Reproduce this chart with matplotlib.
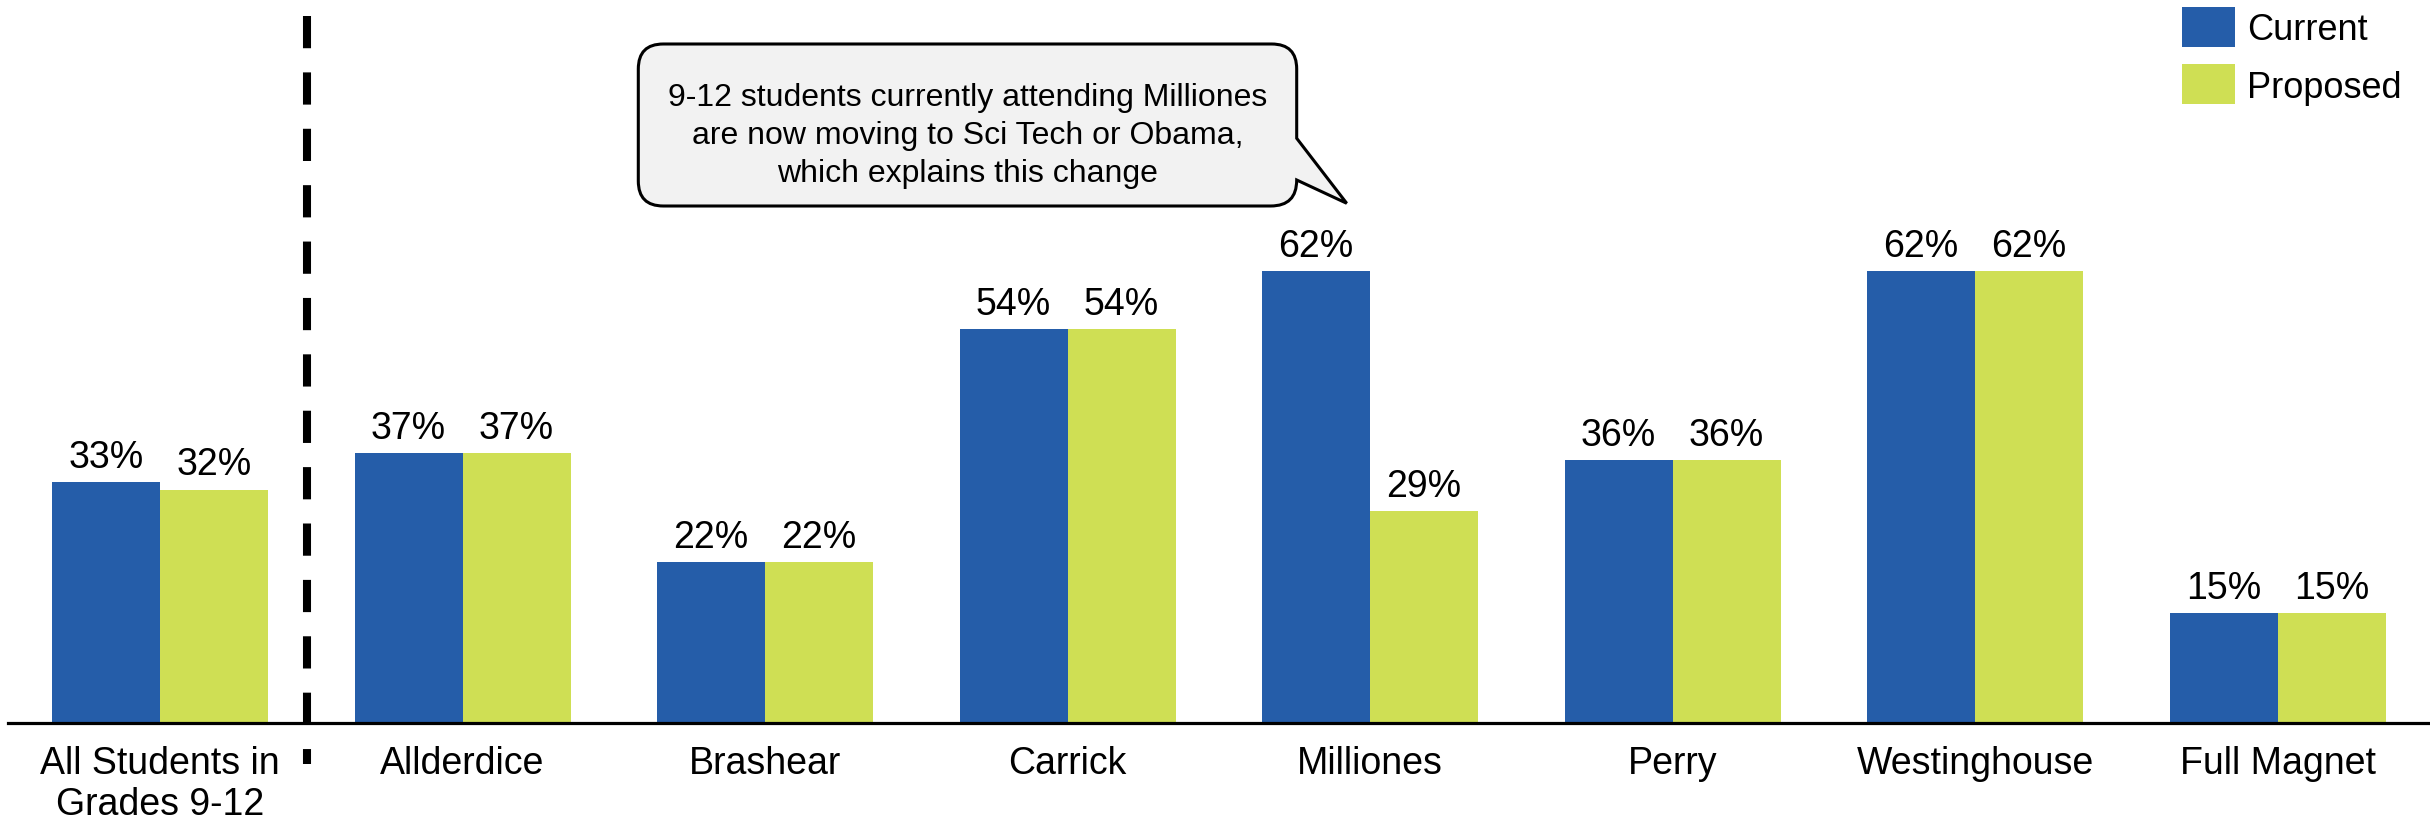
import matplotlib
matplotlib.use("Agg")
import matplotlib.pyplot as plt
import numpy as np
from matplotlib.path import Path
from matplotlib.patches import PathPatch, Rectangle

plt.rcParams['font.family'] = ['Liberation Sans', 'DejaVu Sans']

# ---------------- data ----------------
categories = ["All Students in\nGrades 9-12", "Allderdice", "Brashear", "Carrick",
              "Milliones", "Perry", "Westinghouse", "Full Magnet"]
current = [33, 37, 22, 54, 62, 36, 62, 15]
proposed = [32, 37, 22, 54, 29, 36, 62, 15]
series_names = ["Current", "Proposed"]
callout_lines = ["9-12 students currently attending Milliones",
                 "are now moving to Sci Tech or Obama,",
                 "which explains this change"]

BLUE = "#255DA9"
GREEN = "#CFDF54"
FS = 27

W, H = 2430, 822
fig = plt.figure(figsize=(W / 100, H / 100), dpi=100)

def fx(px):
    return px / W

def fy(py):
    return 1 - py / H

axis_y_px = 722.7
ax = fig.add_axes([fx(8), fy(axis_y_px), 1 - fx(8), axis_y_px / H])
ax.set_xlim(-0.5025, 7.504)
ax.set_ylim(0, 99.2)

x = np.arange(len(categories))
bw = 0.357
b1 = ax.bar(x - bw / 2, current, bw, color=BLUE, label=series_names[0], zorder=2)
b2 = ax.bar(x + bw / 2, proposed, bw, color=GREEN, label=series_names[1], zorder=2)
for bars in (b1, b2):
    ax.bar_label(bars, labels=[f"{int(round(v))}%" for v in bars.datavalues],
                 padding=4.5, fontsize=FS, color="black")

for s in ["top", "right", "left"]:
    ax.spines[s].set_visible(False)
ax.spines["bottom"].set_linewidth(2.3)
ax.spines["bottom"].set_zorder(3)
ax.set_yticks([])
ax.set_xticks(x)
ax.set_xticklabels(categories, fontsize=FS, linespacing=1.2)
ax.tick_params(axis="x", length=0, pad=16.5)

# dashed separator
px_per_unit = 7.285
def ydata(py):
    return (axis_y_px - py) / px_per_unit
ax.plot([0.485, 0.485], [ydata(15.7), ydata(764)], color="black", lw=5.8,
        dashes=(32 / 8, 24 / 8), solid_capstyle="butt", dash_capstyle="butt",
        clip_on=False, zorder=4)

# callout bubble (figure pixel coordinates)
L, R, T, B, r = 638.3, 1296.7, 44, 206, 25
j1, tip, j2 = (R, 138.3), (1346.7, 203.3), (R, 180)
pts = [
    ((L + r, T), Path.MOVETO),
    ((R - r, T), Path.LINETO),
    ((R, T), Path.CURVE3), ((R, T + r), Path.CURVE3),
    (j1, Path.LINETO),
    (tip, Path.LINETO),
    (j2, Path.LINETO),
    ((R, B), Path.CURVE3), ((R - (B - j2[1]), B), Path.CURVE3),
    ((L + r, B), Path.LINETO),
    ((L, B), Path.CURVE3), ((L, B - r), Path.CURVE3),
    ((L, T + r), Path.LINETO),
    ((L, T), Path.CURVE3), ((L + r, T), Path.CURVE3),
    ((L + r, T), Path.CLOSEPOLY),
]
verts = [(fx(p[0]), fy(p[1])) for p, _ in pts]
codes = [c for _, c in pts]
fig.patches.append(PathPatch(Path(verts, codes), facecolor="#F2F2F2",
                             edgecolor="black", lw=2.2, transform=fig.transFigure,
                             zorder=5))
cx = (L + R) / 2
for i, line in enumerate(callout_lines):
    fig.text(fx(cx), fy(106 + 38 * i), line, ha="center", va="baseline",
             fontsize=23, color="black", zorder=6)

# legend (keys drawn in figure pixel layout)
leg_x0, leg_w, leg_h = 2181.7, 53.3, 40
leg_tops = [6.7, 64.0]
for name, color, top in zip(series_names, [BLUE, GREEN], leg_tops):
    fig.patches.append(Rectangle((fx(leg_x0), fy(top + leg_h)), leg_w / W, leg_h / H,
                                 facecolor=color, edgecolor="none",
                                 transform=fig.transFigure))
    fig.text(fx(leg_x0 + leg_w + 11.7), fy(top + leg_h / 2 + 13.5), name,
             ha="left", va="baseline", fontsize=26, color="black")

fig.savefig("out.png", dpi=100)
